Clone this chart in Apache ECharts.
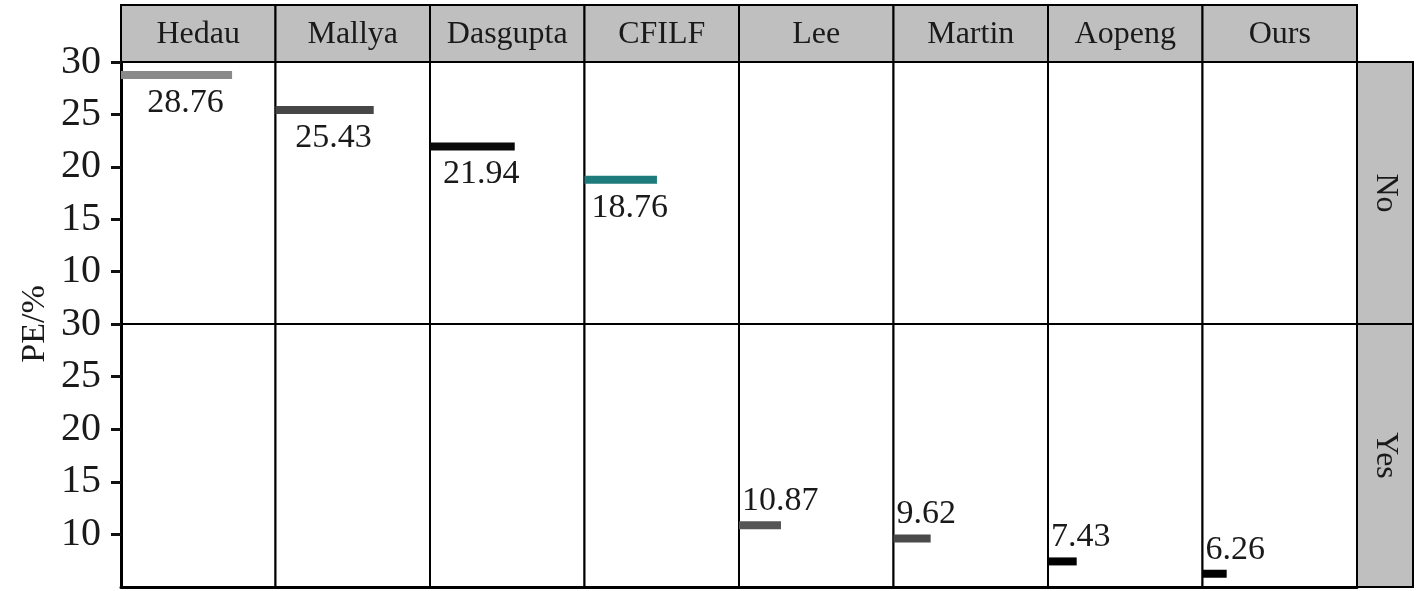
<!DOCTYPE html>
<html>
<head>
<meta charset="utf-8">
<script src="https://cdn.jsdelivr.net/npm/echarts@6/dist/echarts.min.js"></script>
<style>html,body{margin:0;padding:0;background:#fff;}#chart{width:1417px;height:591px;}</style>
</head>
<body>
<div id="chart"></div>
<script>
// ---- data ----
const methods = ['Hedau', 'Mallya', 'Dasgupta', 'CFILF', 'Lee', 'Martin', 'Aopeng', 'Ours'];
const groups = ['No', 'Yes'];
const methodGroup = ['No', 'No', 'No', 'No', 'Yes', 'Yes', 'Yes', 'Yes'];
const peValues = [28.76, 25.43, 21.94, 18.76, 10.87, 9.62, 7.43, 6.26];
const yTicks = [10, 15, 20, 25, 30];
const yName = 'PE/%';

// ---- styles / layout ----
const barColors = ['#8a8a8a', '#474747', '#0a0a0a', '#1f7b7b', '#555555', '#4a4a4a', '#000000', '#000000'];
const FONT = '"Liberation Serif", "Times New Roman", serif';
const LEFT = 121, RIGHT = 1357, TOPSTRIP = 5, TOP = 62, MID = 324, BOTTOM = 587, RSTRIP = 1413;
const colW = (RIGHT - LEFT) / methods.length;
const rowTops = [TOP, MID];
const rowHeights = [MID - TOP, BOTTOM - MID];

const grids = [], xAxes = [], yAxes = [], series = [];
groups.forEach((g, r) => {
  methods.forEach((m, c) => {
    const idx = r * methods.length + c;
    grids.push({
      left: LEFT + c * colW, top: rowTops[r], width: colW, height: rowHeights[r],
      show: true, borderColor: '#000', borderWidth: 2, backgroundColor: '#fff'
    });
    xAxes.push({
      gridIndex: idx, type: 'value', min: 0, max: 40,
      axisLine: { show: r === 1, onZero: false, lineStyle: { color: '#000', width: 3 } },
      axisTick: { show: false }, axisLabel: { show: false }, splitLine: { show: false }
    });
    yAxes.push({
      gridIndex: idx, type: 'value', min: 5, max: 30, interval: 5,
      axisLine: { show: c === 0, lineStyle: { color: '#000', width: 3 } },
      axisTick: { show: c === 0, length: 10, lineStyle: { color: '#111', width: 3 }, customValues: yTicks },
      axisLabel: { show: c === 0, fontFamily: FONT, fontSize: 40, color: '#1a1a1a', margin: 20, customValues: yTicks },
      splitLine: { show: false }
    });
    const data = methodGroup[c] === g ? [[peValues[c], peValues[c]]] : [];
    series.push({
      type: 'custom', xAxisIndex: idx, yAxisIndex: idx,
      encode: { x: 0, y: 1 }, data: data,
      renderItem: function (params, api) {
        const v = api.value(1);
        const p0 = api.coord([0, v]);
        const p1 = api.coord([api.value(0), v]);
        const h = 8;
        const label = v.toFixed(2);
        const isTop = r === 0;
        return {
          type: 'group',
          children: [
            { type: 'rect', shape: { x: p0[0], y: p0[1] - h / 2, width: p1[0] - p0[0], height: h },
              style: { fill: barColors[c] } },
            { type: 'text',
              x: isTop ? (p0[0] + p1[0]) / 2 + 9 : p0[0] + 3,
              y: isTop ? p0[1] + 28 : p0[1] - 24,
              style: { text: label, font: '34px ' + FONT, fill: '#1a1a1a',
                align: isTop ? 'center' : 'left', verticalAlign: 'middle' } }
          ]
        };
      }
    });
  });
});

// strips
const graphics = [];
methods.forEach((m, c) => {
  graphics.push({ type: 'rect', shape: { x: LEFT + c * colW, y: TOPSTRIP, width: colW, height: TOP - TOPSTRIP },
    style: { fill: '#bfbfbf', stroke: '#000', lineWidth: 2 } });
  graphics.push({ type: 'text', x: LEFT + c * colW + colW / 2, y: (TOPSTRIP + TOP) / 2 + 1,
    style: { text: m, font: '32px ' + FONT, fill: '#1a1a1a', align: 'center', verticalAlign: 'middle' } });
});
groups.forEach((g, r) => {
  graphics.push({ type: 'rect', shape: { x: RIGHT, y: rowTops[r], width: RSTRIP - RIGHT, height: rowHeights[r] },
    style: { fill: '#bfbfbf', stroke: '#000', lineWidth: 2 } });
  graphics.push({ type: 'text', x: (RIGHT + RSTRIP) / 2, y: rowTops[r] + rowHeights[r] / 2, rotation: -Math.PI / 2,
    style: { text: g, font: '32px ' + FONT, fill: '#1a1a1a', align: 'center', verticalAlign: 'middle' } });
});
graphics.push({ type: 'text', x: 35, y: MID, rotation: Math.PI / 2,
  style: { text: yName, font: '34px ' + FONT, fill: '#1a1a1a', align: 'center', verticalAlign: 'middle' } });

const chart = echarts.init(document.getElementById('chart'), null, { renderer: 'canvas' });
chart.setOption({
  animation: false,
  backgroundColor: '#fff',
  grid: grids, xAxis: xAxes, yAxis: yAxes, series: series,
  graphic: graphics
});
</script>
</body>
</html>
